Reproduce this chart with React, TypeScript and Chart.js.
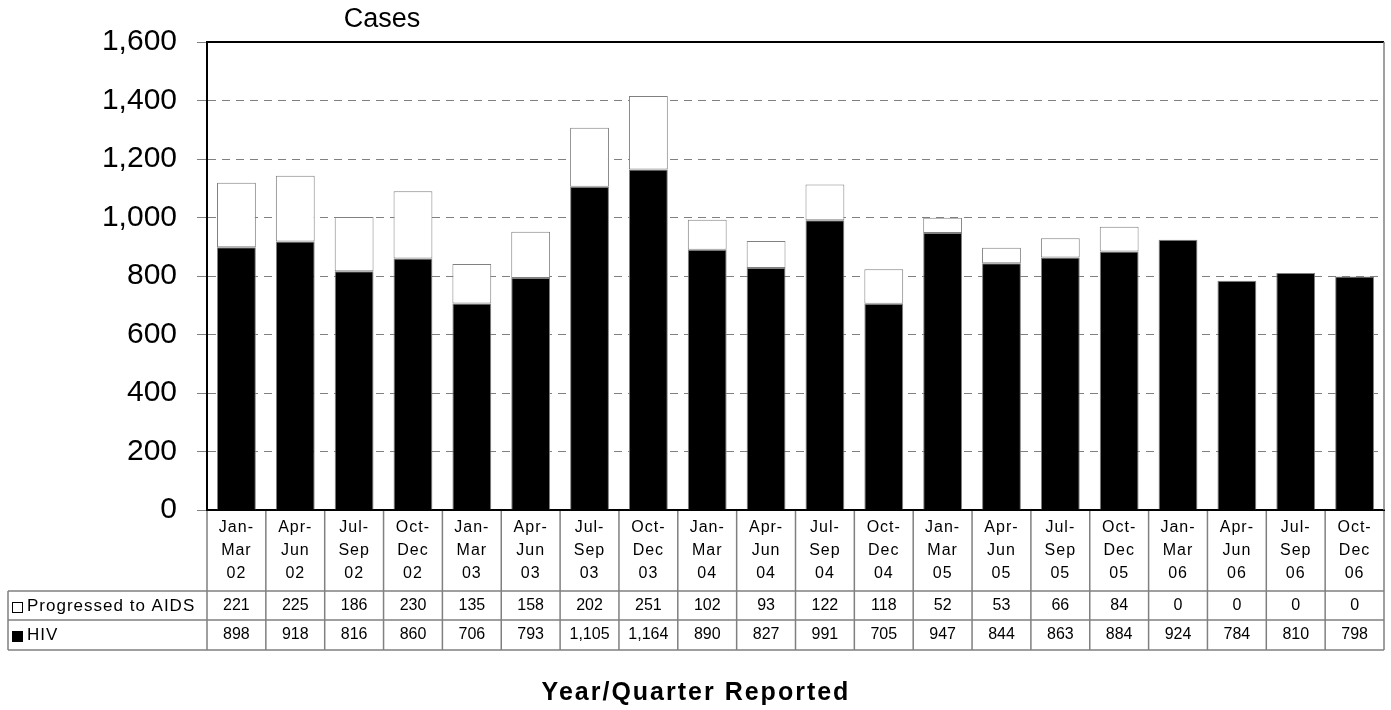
import React, { useEffect, useRef } from "react";
import { Chart, registerables } from "chart.js";

Chart.register(...registerables);

const categories: string[][] = [
  ["Jan-", "Mar", "02"], ["Apr-", "Jun", "02"], ["Jul-", "Sep", "02"], ["Oct-", "Dec", "02"],
  ["Jan-", "Mar", "03"], ["Apr-", "Jun", "03"], ["Jul-", "Sep", "03"], ["Oct-", "Dec", "03"],
  ["Jan-", "Mar", "04"], ["Apr-", "Jun", "04"], ["Jul-", "Sep", "04"], ["Oct-", "Dec", "04"],
  ["Jan-", "Mar", "05"], ["Apr-", "Jun", "05"], ["Jul-", "Sep", "05"], ["Oct-", "Dec", "05"],
  ["Jan-", "Mar", "06"], ["Apr-", "Jun", "06"], ["Jul-", "Sep", "06"], ["Oct-", "Dec", "06"],
];

const progressedToAids: number[] = [221, 225, 186, 230, 135, 158, 202, 251, 102, 93, 122, 118, 52, 53, 66, 84, 0, 0, 0, 0];
const hiv: number[] = [898, 918, 816, 860, 706, 793, 1105, 1164, 890, 827, 991, 705, 947, 844, 863, 884, 924, 784, 810, 798];

const seriesNames = ["Progressed to AIDS", "HIV"];
const yTicksMax = 1600;
const yStep = 200;

const FONT = "'Liberation Sans', Arial, sans-serif";
const GREY = "#808080";

const fmt = (v: number) => v.toLocaleString("en-US");

const tablePlugin = {
  id: "tablePlugin",
  afterDraw(chart: any) {
    const ctx = chart.ctx as CanvasRenderingContext2D;
    const { left, right, top, bottom } = chart.chartArea;
    const xs = chart.scales.x;
    const n = categories.length;
    const w = (right - left) / n;
    const tableLeft = 8;
    const headerBottom = 591;
    const row1Bottom = 620;
    const row2Bottom = 650;

    ctx.save();
    ctx.strokeStyle = "#000";
    ctx.lineWidth = 2;
    ctx.beginPath();
    ctx.moveTo(left, top);
    ctx.lineTo(right, top);
    ctx.stroke();
    ctx.strokeStyle = GREY;
    ctx.lineWidth = 1.5;
    ctx.beginPath();
    ctx.moveTo(right, top);
    ctx.lineTo(right, bottom);
    ctx.stroke();

    ctx.strokeStyle = GREY;
    ctx.lineWidth = 1.5;
    ctx.beginPath();
    for (let i = 0; i <= n; i++) {
      const x = left + i * w;
      ctx.moveTo(x, bottom + 1);
      ctx.lineTo(x, row2Bottom);
    }
    for (const y of [headerBottom, row1Bottom, row2Bottom]) {
      ctx.moveTo(tableLeft, y);
      ctx.lineTo(right, y);
    }
    ctx.moveTo(tableLeft, headerBottom);
    ctx.lineTo(tableLeft, row2Bottom);
    ctx.stroke();

    ctx.fillStyle = "#000";
    ctx.textAlign = "center";
    ctx.textBaseline = "middle";
    ctx.font = `16px ${FONT}`;
    (ctx as any).letterSpacing = "1px";
    categories.forEach((lines, i) => {
      const cx = xs.getPixelForValue(i);
      lines.forEach((t, j) => ctx.fillText(t, cx, 528 + j * 23));
    });

    ctx.font = `16px ${FONT}`;
    (ctx as any).letterSpacing = "0px";
    const rows = [progressedToAids, hiv];
    const rowY = [606, 635];
    rows.forEach((vals, r) => {
      vals.forEach((v, i) => {
        ctx.fillText(fmt(v), xs.getPixelForValue(i), rowY[r]);
      });
    });

    ctx.textAlign = "left";
    ctx.font = `17px ${FONT}`;
    (ctx as any).letterSpacing = "1px";
    rowY.forEach((y, r) => {
      const sx = 12, sz = 10;
      if (r === 0) {
        ctx.strokeStyle = "#000";
        ctx.lineWidth = 1;
        ctx.strokeRect(sx + 0.5, y - sz / 2 + 1.5, sz, sz);
      } else {
        ctx.fillStyle = "#000";
        ctx.fillRect(sx, y - sz / 2 + 1, sz + 1, sz + 1);
      }
      ctx.fillStyle = "#000";
      ctx.fillText(seriesNames[r], 27, y);
    });

    ctx.textAlign = "center";
    (ctx as any).letterSpacing = "0px";
    ctx.font = `27px ${FONT}`;
    ctx.fillText("Cases", 382, 20);
    ctx.font = `bold 25px ${FONT}`;
    (ctx as any).letterSpacing = "2px";
    ctx.fillText("Year/Quarter Reported", (tableLeft + right) / 2, 693);
    ctx.restore();
  },
};

export default function App() {
  const ref = useRef<HTMLCanvasElement | null>(null);
  useEffect(() => {
    if (!ref.current) return;
    const chart = new Chart(ref.current, {
      type: "bar",
      data: {
        labels: categories.map((c) => c.join(" ")),
        datasets: [
          {
            label: seriesNames[1],
            data: hiv,
            backgroundColor: "#000",
            borderColor: GREY,
            borderWidth: 1,
            barPercentage: 0.66,
            categoryPercentage: 1,
          },
          {
            label: seriesNames[0],
            data: progressedToAids.map((v) => (v === 0 ? null : v)),
            backgroundColor: "#fff",
            borderColor: GREY,
            borderWidth: 1,
            borderSkipped: false,
            barPercentage: 0.66,
            categoryPercentage: 1,
          },
        ],
      },
      options: {
        responsive: false,
        animation: false,
        layout: { padding: { top: 42, right: 7, left: 0, bottom: 0 } },
        plugins: { legend: { display: false }, tooltip: { enabled: false }, title: { display: false } },
        scales: {
          x: {
            stacked: true,
            ticks: { display: false },
            grid: { display: false },
            border: { color: "#000", width: 2 },
            afterFit: (s: any) => {
              s.height = 200;
            },
          },
          y: {
            stacked: true,
            min: 0,
            max: yTicksMax,
            ticks: {
              stepSize: yStep,
              color: "#000",
              padding: 20,
              font: { size: 30, family: FONT },
              callback: (v: any) => fmt(Number(v)),
            },
            grid: { color: GREY, lineWidth: 1, tickLength: 10, tickColor: GREY, tickBorderDash: [] },
            border: { color: "#000", width: 2, dash: [8, 6] },
            afterFit: (s: any) => {
              s.width = 207;
            },
          },
        },
      },
      plugins: [tablePlugin],
    });
    return () => chart.destroy();
  }, []);
  return (
    <div style={{ position: "fixed", left: 0, top: 0, width: 1391, height: 710, background: "#fff" }}>
      <canvas ref={ref} width={1391} height={710} />
    </div>
  );
}
